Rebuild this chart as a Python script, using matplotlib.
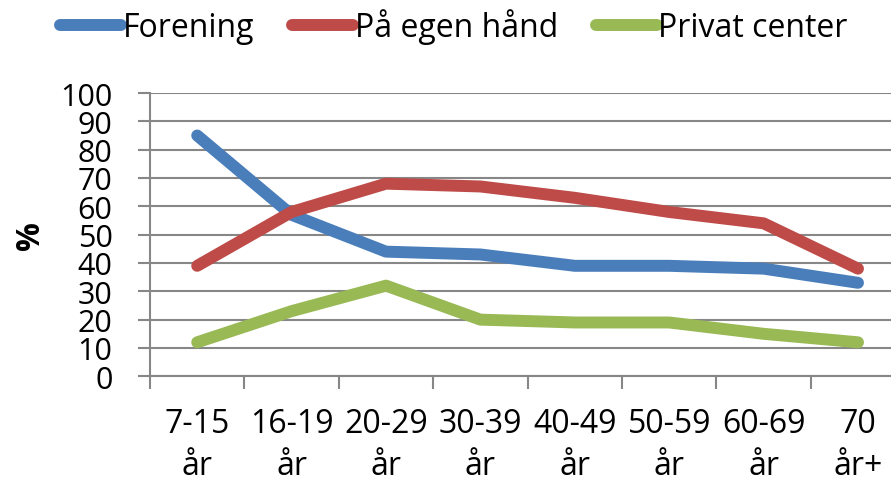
import numpy as np
import matplotlib
matplotlib.use('Agg')
import matplotlib.pyplot as plt

plt.rcParams['font.family'] = ['Open Sans', 'DejaVu Sans']

# data
categories = ['7-15\når', '16-19\når', '20-29\når', '30-39\når',
              '40-49\når', '50-59\når', '60-69\når', '70\når+']
forening = [85, 57, 44, 43, 39, 39, 38, 33]
egen_haand = [39, 58, 68, 67, 63, 58, 54, 38]
privat = [12, 23, 32, 20, 19, 19, 15, 12]
series_names = ['Forening', 'På egen hånd', 'Privat center']
colors = ['#4A7EBB', '#BE4B48', '#98B954']

fs = 23
grid_col = '#878787'

fig = plt.figure(figsize=(8.91, 4.85), dpi=100)
ax = fig.add_axes([150/891, 1 - 377.3/485, 8*94.4/891, (377.3 - 94)/485])

x = np.arange(len(categories))
for vals, name, col in zip([forening, egen_haand, privat], series_names, colors):
    ax.plot(x, vals, color=col, lw=8.6, solid_capstyle='round',
            solid_joinstyle='round', label=name, zorder=3)

ax.set_xlim(-0.5, len(categories) - 0.5)
ax.set_ylim(0, 100)
ax.set_yticks(np.arange(0, 101, 10))
ax.yaxis.grid(True, color=grid_col, lw=1.5)
ax.set_axisbelow(True)

# boundary ticks (major, unlabeled) and category labels (minor)
ax.set_xticks(np.arange(-0.5, len(categories), 1))
ax.set_xticklabels([])
ax.set_xticks(x, minor=True)
ax.set_xticklabels(categories, minor=True, fontsize=fs, linespacing=1.35)
ax.tick_params(axis='x', which='major', length=9, width=1.5, color=grid_col)
ax.tick_params(axis='x', which='minor', length=0, pad=22)
ax.tick_params(axis='y', length=9, width=1.5, color=grid_col, pad=18,
               labelsize=22)

for s in ['top', 'right']:
    ax.spines[s].set_visible(False)
ax.spines['left'].set_color(grid_col)
ax.spines['left'].set_linewidth(1.5)
ax.spines['bottom'].set_color(grid_col)
ax.spines['bottom'].set_linewidth(1.5)

fig.text(30/891, 1 - 236/485, '%', rotation=90, fontsize=fs, fontweight='bold',
         ha='center', va='center')

leg = ax.legend(loc='center', bbox_to_anchor=(454/891, 1 - 27/485),
                bbox_transform=fig.transFigure, ncol=3, frameon=False,
                fontsize=fs, handlelength=1.9, handletextpad=0.05,
                columnspacing=1.2, borderpad=0)
for h in leg.get_lines():
    h.set_linewidth(8.6)
    h.set_solid_capstyle('round')

fig.savefig('out.png', dpi=100)
